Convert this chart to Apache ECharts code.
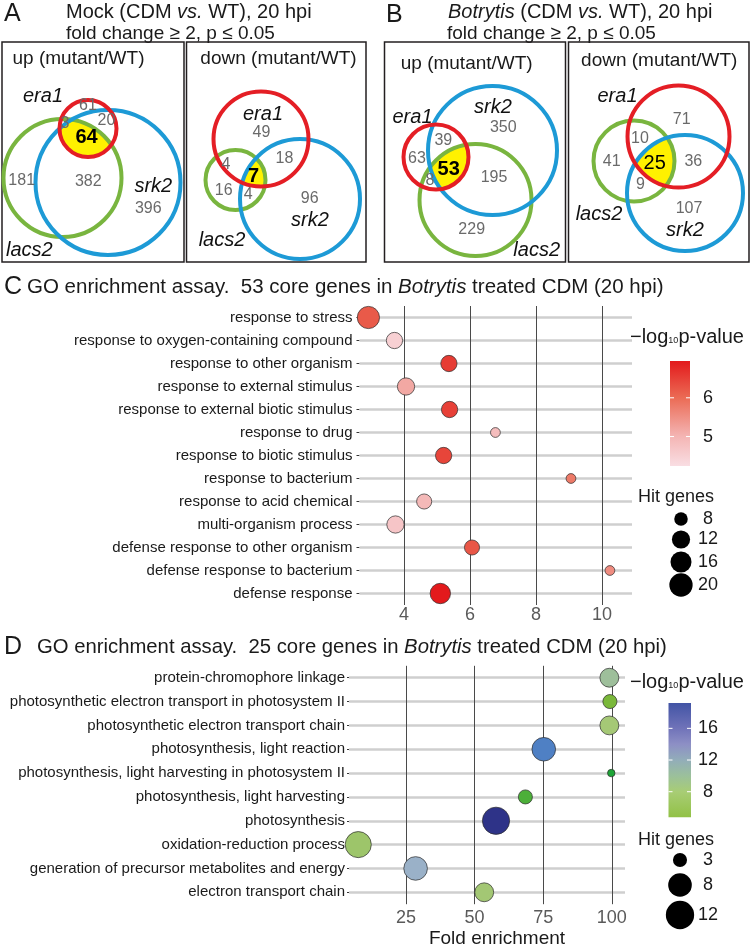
<!DOCTYPE html>
<html><head><meta charset="utf-8">
<script src="https://cdn.jsdelivr.net/npm/echarts@6/dist/echarts.min.js"></script>
<style>html,body{margin:0;padding:0;background:#fff}#c{width:751px;height:948px}</style>
</head><body><div id="c"></div>
<script>
// ================= DATA =================
// Panel C: GO enrichment, 53 core genes
const goTermsC = ['response to stress', 'response to oxygen-containing compound', 'response to other organism',
  'response to external stimulus', 'response to external biotic stimulus', 'response to drug',
  'response to biotic stimulus', 'response to bacterium', 'response to acid chemical',
  'multi-organism process', 'defense response to other organism', 'defense response to bacterium', 'defense response'];
const foldC = [2.92, 3.71, 5.36, 4.06, 5.38, 6.77, 5.20, 9.06, 4.61, 3.74, 6.06, 10.24, 5.10];
const hitsC = [18, 10, 10, 11, 10, 7, 10, 7, 9, 11, 9, 7, 15];
const logPC = [6.2, 4.5, 6.55, 5.18, 6.5, 4.85, 6.45, 5.8, 4.93, 4.7, 6.24, 5.55, 6.95];
const xTicksC = [4, 6, 8, 10];
const sizeBreaksC = [8, 12, 16, 20];
const colorBreaksC = [5, 6];

// Panel D: GO enrichment, 25 core genes
const goTermsD = ['protein-chromophore linkage', 'photosynthetic electron transport in photosystem II',
  'photosynthetic electron transport chain', 'photosynthesis, light reaction',
  'photosynthesis, light harvesting in photosystem II', 'photosynthesis, light harvesting', 'photosynthesis',
  'oxidation-reduction process', 'generation of precursor metabolites and energy', 'electron transport chain'];
const foldD = [99.1, 99.3, 99.1, 75.2, 99.8, 68.5, 57.8, 7.6, 28.5, 53.5];
const hitsD = [5, 3, 5, 8, 2, 3, 11, 10, 8, 5];
const logPD = [10, 5.4, 8, 16, 4.8, 5.1, 19.2, 7.5, 12, 7.9];
const xTicksD = [25, 50, 75, 100];
const sizeBreaksD = [3, 8, 12];
const colorBreaksD = [8, 12, 16];

// Venn counts (region order per panel, core region marked separately)
const vennMockUp = [61, 20, 3, 64, 181, 382, 396];
const vennMockDown = [49, 18, 4, 7, 16, 4, 96];
const vennBotUp = [350, 39, 63, 53, 8, 195, 229];
const vennBotDown = [71, 10, 41, 25, 36, 9, 107];
const setNames = ['era1', 'srk2', 'lacs2'];
const vennTitles = ['up (mutant/WT)', 'down (mutant/WT)', 'up (mutant/WT)', 'down (mutant/WT)'];

// ================= STYLE / LAYOUT =================
const F = '"Liberation Sans", Arial, Helvetica, sans-serif';
const mctx = document.createElement('canvas').getContext('2d');
function tw(t, size, weight, style) {
  mctx.font = (style || 'normal') + ' ' + (weight || 'normal') + ' ' + size + 'px "Liberation Sans", Arial, sans-serif';
  return mctx.measureText(t).width;
}
function txt(x, y, t, o) {
  const st = Object.assign({ text: t, fontFamily: F, fontSize: 16, fill: '#1a1a1a', align: 'center', verticalAlign: 'middle' }, o || {});
  st.textAlign = st.align; st.textVerticalAlign = st.verticalAlign;
  return { type: 'text', x: x, y: y, silent: true, style: st };
}
function segs(x, y, parts, size, fill) {
  const out = []; let cx = x;
  parts.forEach(p => {
    const it = p[1] ? 'italic' : 'normal';
    out.push(txt(cx, y, p[0], { fontSize: size, fontStyle: it, fill: fill || '#1a1a1a', align: 'left' }));
    cx += tw(p[0], size, 'normal', it);
  });
  return out;
}
function hex(h) { return [1, 3, 5].map(i => parseInt(h.substr(i, 2), 16)); }
function makeRamp(stops) {
  return function (v) {
    if (v <= stops[0][0]) return stops[0][1];
    if (v >= stops[stops.length - 1][0]) return stops[stops.length - 1][1];
    for (let i = 0; i < stops.length - 1; i++) {
      const a = stops[i], b = stops[i + 1];
      if (v >= a[0] && v <= b[0]) {
        const f = (v - a[0]) / (b[0] - a[0]); const ca = hex(a[1]), cb = hex(b[1]);
        return 'rgb(' + ca.map((c, k) => Math.round(c + (cb[k] - c) * f)).join(',') + ')';
      }
    }
  };
}
const stopsC = [[4.24, '#f9dee3'], [5.0, '#f4b5b4'], [6.0, '#eb6b55'], [6.95, '#e31a1c']];
const stopsD = [[4.8, '#1ea537'], [5.4, '#7ab83a'], [8, '#a5c876'], [10, '#9ebf9b'], [12, '#9ab1c8'], [16, '#4f80c4'], [19.2, '#2e3388']];
const stopsDLegend = [[4.77, '#92c146'], [8, '#a8cd75'], [10, '#9bc09b'], [12, '#92adb9'], [14, '#8d8fc5'], [16, '#7073b9'], [19.2, '#4254a5']];
const rampC = makeRamp(stopsC), rampD = makeRamp(stopsD);
const sizeC = v => 9.8 + 13.5 * Math.sqrt(Math.max(0, v - 7) / 13);
const sizeD = v => 7.5 + 20.8 * Math.sqrt(Math.max(0, v - 2) / 10);

// ================= GRAPHIC (Venn + legends + titles) =================
const G = [];
// headers
G.push(txt(4, 14, 'A', { fontSize: 25, align: 'left' }));
G.push(...segs(66, 12, [['Mock (CDM '], ['vs.', 1], [' WT), 20 hpi']], 20));
G.push(...segs(66, 33.5, [['fold change ≥ 2, p ≤ 0.05']], 19));
G.push(txt(386, 15, 'B', { fontSize: 25, align: 'left' }));
G.push(...segs(448, 12, [['Botrytis', 1], [' (CDM '], ['vs.', 1], [' WT), 20 hpi']], 20));
G.push(...segs(447, 33.5, [['fold change ≥ 2, p ≤ 0.05']], 19));
G.push(txt(4, 287, 'C', { fontSize: 25, align: 'left' }));
G.push(...segs(27, 287, [['GO enrichment assay.  53 core genes in '], ['Botrytis', 1], [' treated CDM (20 hpi)']], 20.5));
G.push(txt(4, 647, 'D', { fontSize: 25, align: 'left' }));
G.push(...segs(37, 647, [['GO enrichment assay.  25 core genes in '], ['Botrytis', 1], [' treated CDM (20 hpi)']], 20.3));

const COLS = { era1: '#e41e25', srk2: '#1d9ad6', lacs2: '#79b53f' };
const vennLayout = [
  { data: vennMockUp, box: [2, 42, 182, 220], title: [78.5, 59],
    circles: { era1: [88, 128.5, 28.5], lacs2: [62.5, 178, 59], srk2: [108, 182.5, 72.5] },
    names: { era1: [43, 96], srk2: [153.3, 186], lacs2: [29.3, 250] },
    pos: [[88, 106], [106.5, 121], [65, 124], [86.5, 137.5], [21.7, 181], [88.3, 182], [148.3, 208.3]], core: 3, bold: true },
  { data: vennMockDown, box: [186.5, 42, 179.5, 220], title: [278.5, 58.5],
    circles: { era1: [261, 139, 47.5], lacs2: [235.5, 180, 30], srk2: [300, 199, 60] },
    names: { era1: [263, 114], srk2: [310, 220], lacs2: [222, 240] },
    pos: [[261.5, 132.5], [284.5, 159], [226, 165], [253.5, 176.7], [223.7, 190.5], [248.2, 195], [309.7, 199]], core: 3, bold: true },
  { data: vennBotUp, box: [384.5, 42, 181, 220], title: [466.7, 63.5],
    circles: { era1: [436, 157, 32.5], srk2: [492.5, 150.5, 64.5], lacs2: [475.5, 200, 56] },
    names: { era1: [412.5, 117], srk2: [493, 107.5], lacs2: [536.7, 250] },
    pos: [[503.3, 127.5], [443.3, 141], [417, 159], [448.7, 169.7], [430, 181], [494, 177.5], [471.7, 230]], core: 3, bold: true },
  { data: vennBotDown, box: [568.5, 42, 180.5, 220], title: [659.2, 61],
    circles: { era1: [678.5, 136.5, 51], lacs2: [634, 161, 40.5], srk2: [685, 193, 58] },
    names: { era1: [617.5, 96.7], srk2: [685, 230], lacs2: [599, 214] },
    pos: [[681.7, 120], [640, 138.3], [611.7, 161.7], [654.7, 163], [693.3, 161.7], [640.5, 185], [689, 208.3]], core: 3, bold: false }
];
function tripleIntersection(cs) {
  const pts = [];
  cs.forEach((c, i) => {
    for (let k = 0; k < 1440; k++) {
      const a = k / 1440 * 2 * Math.PI, x = c[0] + c[2] * Math.cos(a), y = c[1] + c[2] * Math.sin(a);
      if (cs.every((d, j) => j === i || Math.hypot(x - d[0], y - d[1]) <= d[2] + 1e-6)) pts.push([x, y]);
    }
  });
  const mx = pts.reduce((s, p) => s + p[0], 0) / pts.length, my = pts.reduce((s, p) => s + p[1], 0) / pts.length;
  pts.sort((p, q) => Math.atan2(p[1] - my, p[0] - mx) - Math.atan2(q[1] - my, q[0] - mx));
  return pts;
}
vennLayout.forEach((v, vi) => {
  G.push({ type: 'rect', silent: true, shape: { x: v.box[0], y: v.box[1], width: v.box[2], height: v.box[3] },
    style: { fill: 'none', stroke: '#231f20', lineWidth: 1.5 } });
  G.push(txt(v.title[0], v.title[1], vennTitles[vi], { fontSize: 19 }));
  const cs = setNames.map(n => v.circles[n]);
  G.push({ type: 'polygon', silent: true, shape: { points: tripleIntersection(cs) }, style: { fill: '#fff100' } });
  ['lacs2', 'srk2', 'era1'].forEach(n => {
    const c = v.circles[n];
    G.push({ type: 'circle', silent: true, shape: { cx: c[0], cy: c[1], r: c[2] }, style: { fill: 'none', stroke: COLS[n], lineWidth: 4 } });
  });
  setNames.forEach(n => G.push(txt(v.names[n][0], v.names[n][1], n, { fontSize: 20, fontStyle: 'italic', fill: '#111' })));
  v.data.forEach((cnt, i) => {
    if (i === v.core) G.push(txt(v.pos[i][0], v.pos[i][1], String(cnt), { fontSize: 20, fontWeight: v.bold ? 'bold' : 'normal', fill: '#000' }));
    else G.push(txt(v.pos[i][0], v.pos[i][1], String(cnt), { fontSize: 16, fill: '#6a6a6a' }));
  });
});

// legends
function colorLegend(L) {
  const stops = L.stops, mn = stops[0][0], mx = stops[stops.length - 1][0];
  let x = L.titleX;
  G.push(txt(x, L.titleY, '−log', { fontSize: 20, align: 'left' })); x += tw('−log', 20);
  G.push(txt(x, L.titleY + 4, '10', { fontSize: 9, align: 'left' })); x += tw('10', 9);
  G.push(txt(x, L.titleY, 'p-value', { fontSize: 20, align: 'left' }));
  G.push({ type: 'rect', silent: true, shape: { x: L.bx, y: L.by, width: L.bw, height: L.bh },
    style: { fill: { type: 'linear', x: 0, y: 1, x2: 0, y2: 0,
      colorStops: stops.map(s => ({ offset: (s[0] - mn) / (mx - mn), color: s[1] })) } } });
  L.breaks.forEach(b => {
    const y = L.by + L.bh - (b - mn) / (mx - mn) * L.bh;
    G.push({ type: 'line', silent: true, shape: { x1: L.bx, y1: y, x2: L.bx + 4, y2: y }, style: { stroke: '#fff', lineWidth: 1 } });
    G.push({ type: 'line', silent: true, shape: { x1: L.bx + L.bw - 4, y1: y, x2: L.bx + L.bw, y2: y }, style: { stroke: '#fff', lineWidth: 1 } });
    G.push(txt(708, y, String(b), { fontSize: 18, fill: '#1a1a1a' }));
  });
  G.push(txt(638, L.hitY, 'Hit genes', { fontSize: 18, align: 'left' }));
  L.sizes.forEach((s, i) => {
    G.push({ type: 'circle', silent: true, shape: { cx: L.cx, cy: L.cy[i], r: L.sizeFn(s) / 2 }, style: { fill: '#000' } });
    G.push(txt(708, L.cy[i], String(s), { fontSize: 18, fill: '#1a1a1a' }));
  });
}
colorLegend({ stops: stopsC, breaks: colorBreaksC, titleX: 630, titleY: 337, bx: 670, by: 361, bw: 20, bh: 105,
  hitY: 497, sizes: sizeBreaksC, sizeFn: sizeC, cx: 681, cy: [519, 539.5, 562, 585] });
colorLegend({ stops: stopsDLegend, breaks: colorBreaksD, titleX: 630, titleY: 682, bx: 668.5, by: 703, bw: 22.5, bh: 114.3,
  hitY: 840, sizes: sizeBreaksD, sizeFn: sizeD, cx: 680, cy: [860, 885, 915] });
G.push(txt(497, 939, 'Fold enrichment', { fontSize: 19 }));

// ================= CHART =================
function bubbleSeries(idx, terms, fold, hits, logp, sizeFn, ramp, ticks) {
  return {
    type: 'scatter', xAxisIndex: idx, yAxisIndex: idx, z: 10, silent: true,
    data: terms.map((t, i) => [fold[i], t, hits[i], logp[i]]),
    symbolSize: d => sizeFn(d[2]),
    itemStyle: { color: p => ramp(p.data[3]), borderColor: '#2b2b2b', borderWidth: 0.7, opacity: 1 },
    emphasis: { disabled: true },
    markLine: {
      silent: true, z: 3, symbol: ['none', 'none'], animation: false, label: { show: false },
      emphasis: { disabled: true },
      data: terms.map(t => ({ yAxis: t, lineStyle: { color: '#cfcfcf', width: 2.6, type: 'solid' } }))
        .concat(ticks.map(v => ({ xAxis: v, lineStyle: { color: '#4a4a4a', width: 1, type: 'solid' } })))
    }
  };
}
function xAx(idx, min, max, ticks, interval, margin) {
  return { gridIndex: idx, type: 'value', min: min, max: max, interval: interval,
    axisLine: { show: false }, axisTick: { show: false }, splitLine: { show: false },
    axisLabel: { customValues: ticks, formatter: v => (ticks.indexOf(v) >= 0 ? String(v) : ''),
      fontSize: 18, color: '#5a5a5a', margin: margin, fontFamily: F } };
}
function yAx(idx, terms, margin, tick) {
  return { gridIndex: idx, type: 'category', data: terms, inverse: true,
    axisLine: { show: false }, splitLine: { show: false },
    axisTick: { show: true, alignWithLabel: true, length: tick, lineStyle: { color: '#333', width: 1 } },
    axisLabel: { fontSize: 15, color: '#1a1a1a', margin: margin, interval: 0, fontFamily: F } };
}
const option = {
  animation: false, backgroundColor: '#fff', textStyle: { fontFamily: F },
  grid: [
    { left: 359.5, top: 306, width: 272.5, height: 299, outerBoundsMode: 'none', containLabel: false },
    { left: 349, top: 665.8, width: 276, height: 238.4, outerBoundsMode: 'none', containLabel: false }
  ],
  xAxis: [xAx(0, 2.65, 10.91, xTicksC, 2, 1), xAx(1, 4.23, 104.8, xTicksD, 25, 5)],
  yAxis: [yAx(0, goTermsC, 7, 3), yAx(1, goTermsD, 4, 2)],
  series: [
    bubbleSeries(0, goTermsC, foldC, hitsC, logPC, sizeC, rampC, xTicksC),
    bubbleSeries(1, goTermsD, foldD, hitsD, logPD, sizeD, rampD, xTicksD)
  ],
  graphic: { elements: G }
};
const chart = echarts.init(document.getElementById('c'), null, { renderer: 'canvas', width: 751, height: 948 });
chart.setOption(option);
</script></body></html>
